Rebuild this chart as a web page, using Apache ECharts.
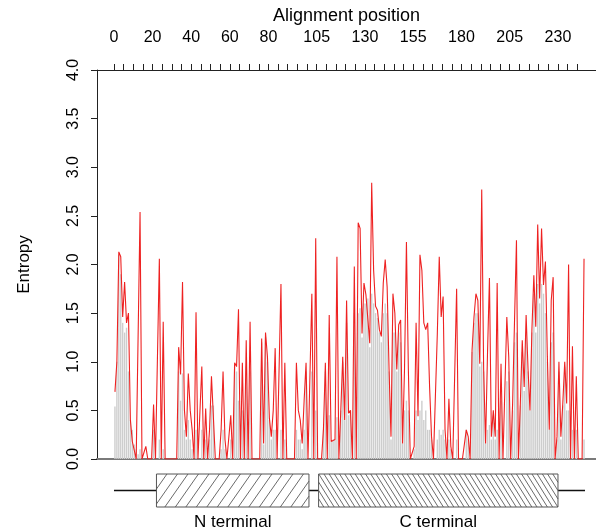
<!DOCTYPE html>
<html><head><meta charset="utf-8">
<script src="https://cdn.jsdelivr.net/npm/echarts@6/dist/echarts.min.js"></script>
<style>html,body{margin:0;padding:0;background:#fff}#c{width:596px;height:531px}</style>
</head><body><div id="c"></div>
<script>
// Entropy per alignment position (red line), positions 1..244
const entropy = [
0.69,1.00,2.13,2.08,1.46,1.82,1.40,1.50,0.40,0.18,
0.20,0,0,2.54,0,0,0.13,0,0,0,
0.56,0,0,2.06,0,1.41,0,0,0,0,
0,0,0,1.15,0.87,1.82,0.50,0.23,0.88,0.50,
0.30,0,1.51,0,0,0.95,0,0.52,0,0.30,
0.85,0.86,0,0,0,0.30,0.90,0.20,0,0,
0.45,0,0.99,0.95,1.54,0,0.99,0,1.22,0,
1.41,0,0,0,0,0,1.24,0.16,1.30,1.05,
0.42,0.23,0.50,1.14,0,0,1.80,0,0.99,0,
0,0,0,0,0.99,0.50,0.40,0.16,0.60,0.99,
0,0,1.70,0,2.27,0,0,0,0.30,0.99,
0,1.48,0.18,0.20,0.20,2.08,0,0.50,1.05,0.40,
1.63,0.47,0.50,0,1.98,0,2.43,2.37,1.29,1.81,
1.69,1.70,1.19,2.84,1.94,1.57,1.53,1.33,1.26,1.81,
2.05,1.77,0.92,0.23,1.70,1.50,0.92,1.38,1.43,0.16,
0.92,2.23,0.92,0,0,0.13,1.40,0.44,2.10,1.94,
1.40,1.33,1.40,0.74,0.23,0,0,1.29,2.08,1.46,
1.67,0.30,0,0.62,0.13,0,0,1.75,0,0,
0,0,0.30,0.23,0,1.12,1.46,1.70,1.63,0.98,
2.77,0.92,0.16,1.09,1.86,0.23,0.50,0.23,1.81,0,
0.98,0,0,1.46,1.05,0,0.57,1.43,2.25,0,
0.57,1.22,0.74,1.48,0.92,0.50,1.33,1.89,1.36,2.41,
1.65,2.37,1.79,2.03,1.05,0.30,1.63,1.87,0,0.23,
1.00,0.23,0.57,1.00,0.57,2.00,0,1.16,0,0.85,
0,0,0,2.06
];
// Grey bars per position
const grayBars = [
0.54,1.00,2.10,1.90,1.40,1.30,1.35,0.90,0.40,0.30,
0.15,0.10,0.05,0.10,0,0,0,0,0,0,
0.30,0,0,0.20,0,0.10,0,0,0,0,
0,0,0,0.90,0.60,0.88,0.30,0.20,0.40,0.20,
0.10,0,0.30,0,0,0.30,0,0.20,0,0.20,
0.55,0.55,0,0,0,0.10,0.30,0.10,0,0,
0.20,0,0.95,0.90,0.60,0,0.50,0,0.95,0,
0.90,0,0,0,0,0,1.20,0.15,1.25,1.00,
0.40,0.20,0.30,0.30,0,0,0.30,0,0.20,0,
0,0,0,0,0.30,0.20,0.20,0.10,0.30,0.90,
0,0,0.90,0,0.50,0,0,0,0.30,0.90,
0,0.45,0.18,0.20,0.20,0.43,0,0.50,1.00,0.40,
1.40,0.45,0.50,0,1.50,0,1.50,1.55,1.25,1.60,
1.60,1.65,1.15,1.70,1.60,1.50,1.45,1.30,1.20,1.50,
1.60,1.50,0.90,0.20,1.30,1.30,0.90,1.30,1.20,0.16,
0.50,0.60,0.50,0,0,0.10,0.50,0.40,0.50,0.60,
0.40,0.50,0.30,0.30,0.20,0,0,0.20,0.30,0.25,
0.30,0.20,0,0.20,0.10,0,0,0.20,0,0,
0,0,0.30,0.20,0,1.10,1.40,1.50,1.50,0.95,
1.00,0.90,0.16,0.30,0.35,0.20,0.45,0.20,0.30,0,
0.60,0,0,0.80,0.90,0,0.50,1.20,1.30,0,
0.55,1.10,0.70,1.30,0.90,0.50,1.30,1.70,1.30,1.80,
1.60,1.80,1.70,1.50,1.00,0.30,1.20,1.30,0,0.20,
0.90,0.20,0.55,0.95,0.50,0.50,0,0.30,0,0.30,
0,0,0,0.20
];
const xTickValues = [0,5,10,15,20,25,30,35,40,45,50,55,60,65,70,75,80,85,90,95,100,105,110,115,120,125,130,135,140,145,150,155,160,165,170,175,180,185,190,195,200,205,210,215,220,225,230,235,240];
const xLabelValues = [0,20,40,60,80,105,130,155,180,205,230];
const yMin = 0, yMax = 4, yStep = 0.5;
const xMin = -8.8, xMax = 249.7;
const backbone = [0, 244];
const domainNames = ['N terminal', 'C terminal'];
const domainStart = [22, 106];
const domainEnd = [101, 230];

const FONT = '"Liberation Sans", Arial, Helvetica, sans-serif';
const positions = entropy.map((_, i) => i + 0.5);

function hatchLines(x0, y0, x1, y1, spacing, angleDeg, dir, style) {
  const H = y1 - y0;
  const run = H / Math.tan(angleDeg * Math.PI / 180);
  const out = [];
  const cStart = dir > 0 ? x0 - run : x0;
  const cEnd = dir > 0 ? x1 : x1 + run;
  for (let c = cStart; c <= cEnd; c += spacing) {
    const ta = (x0 - c) / (dir * run), tb = (x1 - c) / (dir * run);
    const tmin = Math.max(0, Math.min(ta, tb)), tmax = Math.min(1, Math.max(ta, tb));
    if (tmax > tmin) {
      out.push({type: 'line', shape: {x1: c + dir * run * tmin, y1: y1 - H * tmin, x2: c + dir * run * tmax, y2: y1 - H * tmax}, style: style});
    }
  }
  return out;
}

const chart = echarts.init(document.getElementById('c'), null, {renderer: 'canvas'});
chart.setOption({
  animation: false,
  backgroundColor: '#fff',
  grid: [
    {left: 97, right: 0, top: 70, bottom: 72},
    {left: 97, right: 0, top: 474, height: 33}
  ],
  xAxis: [
    {
      type: 'value', gridIndex: 0, position: 'top', min: xMin, max: xMax,
      name: 'Alignment position', nameLocation: 'middle', nameGap: 43,
      nameTextStyle: {fontSize: 18, color: '#000', fontFamily: FONT},
      axisLine: {show: true, onZero: false, lineStyle: {color: '#222', width: 1}},
      axisTick: {show: true, inside: false, length: 6, customValues: xTickValues, lineStyle: {color: '#222'}},
      axisLabel: {show: true, customValues: xLabelValues, margin: 24, fontSize: 16, color: '#000', fontFamily: FONT},
      splitLine: {show: false}
    },
    {
      type: 'value', gridIndex: 0, position: 'bottom', min: xMin, max: xMax,
      axisLine: {show: true, onZero: false, lineStyle: {color: '#7a7a7a', width: 2}},
      axisTick: {show: false}, axisLabel: {show: false}, splitLine: {show: false}
    },
    {type: 'value', gridIndex: 1, min: xMin, max: xMax, show: false}
  ],
  yAxis: [
    {
      type: 'value', gridIndex: 0, min: yMin, max: yMax, interval: yStep,
      name: 'Entropy', nameLocation: 'middle', nameGap: 64,
      nameTextStyle: {fontSize: 17, color: '#000', fontFamily: FONT},
      axisLine: {show: true, onZero: false, lineStyle: {color: '#222', width: 1}},
      axisTick: {show: true, inside: false, length: 6, lineStyle: {color: '#222'}},
      axisLabel: {show: true, rotate: 90, margin: 15, fontSize: 16, color: '#000', fontFamily: FONT,
        formatter: v => v.toFixed(1)},
      splitLine: {show: false}
    },
    {type: 'value', gridIndex: 1, min: 0, max: 1, show: false}
  ],
  series: [
    {
      type: 'bar', xAxisIndex: 0, yAxisIndex: 0, barWidth: '72%',
      data: positions.map((p, i) => [p, grayBars[i]]),
      itemStyle: {color: '#cdcdcd'}, silent: true
    },
    {
      type: 'line', xAxisIndex: 0, yAxisIndex: 0, symbol: 'none', smooth: false,
      data: positions.map((p, i) => [p, entropy[i]]),
      lineStyle: {color: '#ee2222', width: 1.1}, silent: true, z: 3
    },
    {
      type: 'custom', xAxisIndex: 2, yAxisIndex: 1, silent: true,
      data: [[backbone[0], backbone[1]]],
      renderItem: function (params, api) {
        const a = api.coord([api.value(0), 0.5]);
        const b = api.coord([api.value(1), 0.5]);
        return {type: 'line', shape: {x1: a[0], y1: a[1], x2: b[0], y2: b[1]}, style: {stroke: '#111', lineWidth: 1.5}};
      },
      z: 1
    },
    {
      type: 'custom', xAxisIndex: 2, yAxisIndex: 1, silent: true,
      data: domainNames.map((n, i) => [domainStart[i], domainEnd[i], i]),
      renderItem: function (params, api) {
        const idx = api.value(2);
        const tl = api.coord([api.value(0), 1]);
        const br = api.coord([api.value(1), 0]);
        const x0 = tl[0], y0 = tl[1], x1 = br[0], y1 = br[1];
        const hs = {stroke: '#444', lineWidth: 0.8};
        const lines = idx === 0 ? hatchLines(x0, y0, x1, y1, 10.5, 55, 1, hs)
                                : hatchLines(x0, y0, x1, y1, 5.2, 58, -1, hs);
        return {
          type: 'group',
          children: [
            {type: 'rect', shape: {x: x0, y: y0, width: x1 - x0, height: y1 - y0}, style: {fill: '#fff', stroke: 'none'}},
            ...lines,
            {type: 'rect', shape: {x: x0, y: y0, width: x1 - x0, height: y1 - y0}, style: {fill: 'none', stroke: '#555', lineWidth: 1}},
            {type: 'text', style: {text: domainNames[idx], x: (x0 + x1) / 2, y: y1 + 15, fill: '#000', fontSize: 17, fontFamily: FONT, align: 'center', verticalAlign: 'middle'}}
          ]
        };
      },
      z: 2
    }
  ]
});
</script>
</body></html>
